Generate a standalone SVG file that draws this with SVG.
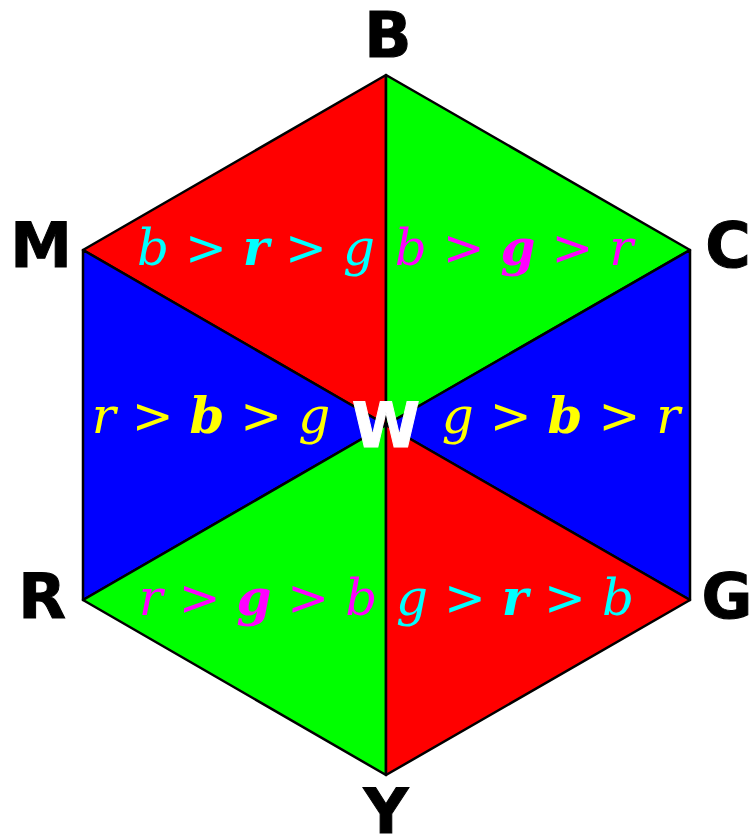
<svg xmlns="http://www.w3.org/2000/svg" width="752" height="839" viewBox="0 0 752 839">
<style>
.tri{stroke:#000;stroke-width:2.5;stroke-linejoin:round}
.v{font-family:"DejaVu Sans","Liberation Sans",sans-serif;font-weight:bold;font-size:62px;text-anchor:middle;fill:#000;stroke:#000;stroke-width:1}
.lbl{font-family:"DejaVu Serif",serif;font-style:italic;font-size:50px;text-anchor:middle}
.lbl .m{font-weight:bold}
.lbl .o{font-style:normal;font-family:"DejaVu Sans",sans-serif;font-weight:normal}
.cy{fill:#00FFFF}.mg{fill:#FF00FF}.ye{fill:#FFFF00}
</style>
<rect width="752" height="839" fill="#fff"/>
<g id="tri-BMW"><polygon class="tri" points="386,75 83,250 386,425" fill="#FF0000"/></g>
<g id="tri-BCW"><polygon class="tri" points="386,75 690,250 386,425" fill="#00FF00"/></g>
<g id="tri-MRW"><polygon class="tri" points="83,250 83,600 386,425" fill="#0000FF"/></g>
<g id="tri-CGW"><polygon class="tri" points="690,250 690,600 386,425" fill="#0000FF"/></g>
<g id="tri-RYW"><polygon class="tri" points="83,600 386,775 386,425" fill="#00FF00"/></g>
<g id="tri-YGW"><polygon class="tri" points="386,775 690,600 386,425" fill="#FF0000"/></g>
<g id="labels">
<text class="lbl cy" x="256" y="265">b <tspan class="o">&gt;</tspan> <tspan class="m">r</tspan> <tspan class="o">&gt;</tspan> g</text>
<text class="lbl mg" x="514" y="265">b <tspan class="o">&gt;</tspan> <tspan class="m">g</tspan> <tspan class="o">&gt;</tspan> r</text>
<text class="lbl ye" x="211" y="433">r <tspan class="o">&gt;</tspan> <tspan class="m">b</tspan> <tspan class="o">&gt;</tspan> g</text>
<text class="lbl ye" x="561" y="433">g <tspan class="o">&gt;</tspan> <tspan class="m">b</tspan> <tspan class="o">&gt;</tspan> r</text>
<text class="lbl mg" x="258" y="615">r <tspan class="o">&gt;</tspan> <tspan class="m">g</tspan> <tspan class="o">&gt;</tspan> b</text>
<text class="lbl cy" x="515" y="615">g <tspan class="o">&gt;</tspan> <tspan class="m">r</tspan> <tspan class="o">&gt;</tspan> b</text>
</g>
<g id="node-B"><text class="v" x="388" y="57">B</text></g>
<g id="node-M"><text class="v" x="41" y="267">M</text></g>
<g id="node-C"><text class="v" x="728" y="267">C</text></g>
<g id="node-R"><text class="v" x="42" y="618">R</text></g>
<g id="node-G"><text class="v" x="727" y="618">G</text></g>
<g id="node-Y"><text class="v" x="386" y="833">Y</text></g>
<g id="node-W"><text class="v" x="386" y="447" style="fill:#fff;stroke:#fff">W</text></g>
</svg>
